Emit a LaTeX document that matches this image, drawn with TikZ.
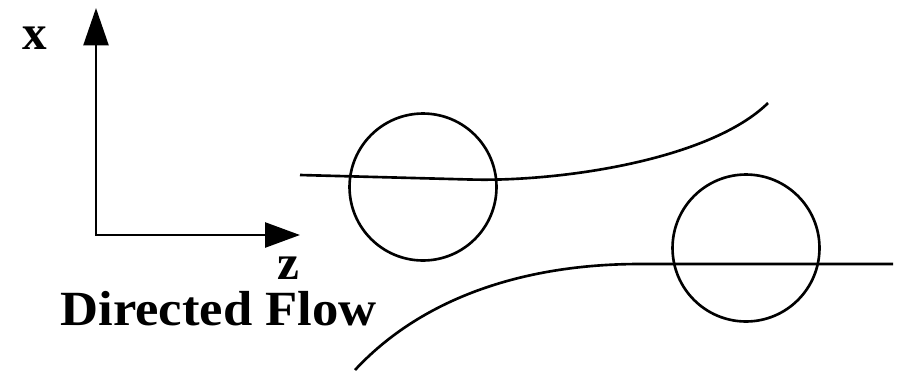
\documentclass[tikz,border=0pt]{standalone}
\usepackage{fontspec}
\setmainfont{Liberation Serif}
\usetikzlibrary{positioning,arrows.meta}

\begin{document}
\begin{tikzpicture}[x=0.02cm, y=-0.02cm,
  arr/.style={{Triangle[length=7.5mm, width=5mm]}-{Triangle[length=7mm, width=5mm]}, line width=1.5pt},
  lab/.style={font=\fontsize{28}{30}\selectfont\bfseries, inner sep=0pt},
  flow/.style={line width=1.5pt},
  drop/.style={circle, draw, line width=1.5pt, minimum size=2.94cm, inner sep=0pt}]
\useasboundingbox (0,0) rectangle (902,376);
% axes
\coordinate (O) at (96,235);
\coordinate (X) at (96,8);
\coordinate (Z) at (300,235);
\draw[arr] (X) -- (O) -- (Z);
\node[lab] (xlab) at (35,38) {x};
\node[lab] (zlab) at (288,268) {z};
\node[lab, anchor=base west, xscale=1.07, transform shape] (title) at (60,325) {Directed Flow};
% particles
\node[drop] (c1) at (423,187) {};
\node[drop] (c2) at (746,248) {};
% upper streamline
\coordinate (u0) at (300,175);
\coordinate (u1) at (470,179.5);
\coordinate (u2) at (768,103);
\draw[flow] (u0) -- (u1) .. controls (560,182) and (710,160) .. (u2);
% lower streamline
\coordinate (l0) at (355,370);
\coordinate (l1) at (640,264);
\coordinate (l2) at (893,264);
\draw[flow] (l0) .. controls (420,300) and (520,264) .. (l1) -- (l2);
\end{tikzpicture}
\end{document}
